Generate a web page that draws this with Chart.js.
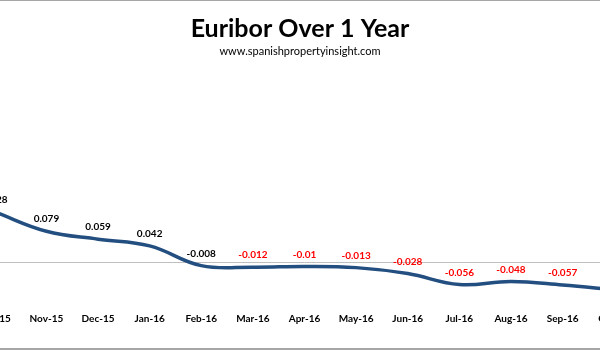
<!DOCTYPE html>
<html>
<head>
<meta charset="utf-8">
<script src="https://cdn.jsdelivr.net/npm/chart.js@4.4.1/dist/chart.umd.min.js"></script>
<style>
  html, body { margin: 0; padding: 0; background: #fff; }
  #wrap {
    position: relative; width: 600px; height: 350px; overflow: hidden;
    box-sizing: border-box; border-top: 1px solid #a6a6a6; border-bottom: 2px solid #a6a6a6;
  }
  #holder { position: absolute; left: -40px; top: -1px; width: 680px; height: 350px; }
</style>
</head>
<body>
<div id="wrap">
  <div id="holder"><canvas id="euriborChart"></canvas></div>
</div>
<script>
// ==========================================
// DATA
// ==========================================
const months = ['Oct-15', 'Nov-15', 'Dec-15', 'Jan-16', 'Feb-16', 'Mar-16', 'Apr-16',
                'May-16', 'Jun-16', 'Jul-16', 'Aug-16', 'Sep-16', 'Oct-16'];
const euribor = [0.128, 0.079, 0.059, 0.042, -0.008, -0.012, -0.01,
                 -0.013, -0.028, -0.056, -0.048, -0.057, -0.069];
const labelColors = ['#000000', '#000000', '#000000', '#000000', '#000000', '#ff0000', '#ff0000',
                     '#ff0000', '#ff0000', '#ff0000', '#ff0000', '#ff0000', '#ff0000'];

const FONT = "Lato, 'Liberation Sans', sans-serif";

// value labels above each point
const valueLabels = {
    id: 'valueLabels',
    afterDatasetsDraw(chart) {
        const ctx = chart.ctx;
        const meta = chart.getDatasetMeta(0);
        ctx.save();
        ctx.font = `bold 10px ${FONT}`;
        ctx.textAlign = 'center';
        ctx.textBaseline = 'middle';
        meta.data.forEach((pt, i) => {
            ctx.fillStyle = labelColors[i];
            ctx.fillText(String(euribor[i]), pt.x, pt.y - 12);
        });
        ctx.restore();
    }
};

new Chart(document.getElementById('euriborChart'), {
    type: 'line',
    data: {
        labels: months,
        datasets: [{
            data: euribor,
            borderColor: '#234e80',
            borderWidth: 3.5,
            tension: 0.4,
            pointRadius: 0,
            fill: false
        }]
    },
    options: {
        responsive: true,
        maintainAspectRatio: false,
        animation: false,
        layout: { padding: { left: 0, right: 0, top: 0, bottom: 22 } },
        plugins: {
            legend: { display: false },
            tooltip: { enabled: false },
            title: {
                display: true,
                text: 'Euribor Over 1 Year',
                color: '#000',
                font: { family: FONT, size: 25, weight: 'bold', lineHeight: 1.2 },
                padding: { top: 14, bottom: 1 }
            },
            subtitle: {
                display: true,
                text: 'www.spanishpropertyinsight.com',
                color: '#000',
                font: { family: FONT, size: 11, lineHeight: 1.2 },
                padding: { top: 0, bottom: 66 }
            }
        },
        scales: {
            x: {
                offset: true,
                grid: { display: false },
                border: { display: false },
                ticks: {
                    color: '#000',
                    padding: 3,
                    maxRotation: 0,
                    autoSkip: false,
                    font: { family: FONT, size: 10, weight: 'bold' }
                }
            },
            y: {
                min: -0.1,
                max: 0.35,
                afterFit: (s) => { s.width = 9; },
                border: { display: false },
                ticks: { display: false, stepSize: 0.05 },
                grid: {
                    drawTicks: false,
                    color: (c) => (c.tick && Math.abs(c.tick.value) < 1e-9 ? '#bfbfbf' : 'rgba(0,0,0,0)'),
                    lineWidth: 1
                }
            }
        }
    },
    plugins: [valueLabels]
});
</script>
</body>
</html>
